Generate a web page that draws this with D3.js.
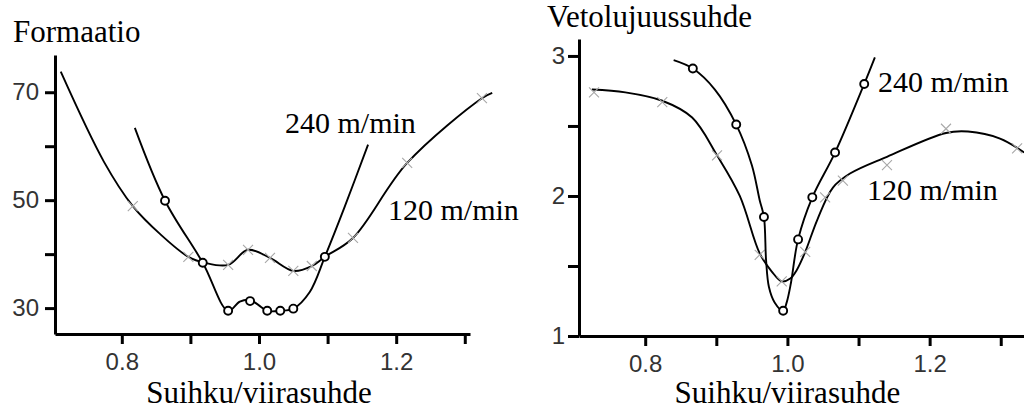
<!DOCTYPE html>
<html>
<head>
<meta charset="utf-8">
<script src="https://cdn.jsdelivr.net/npm/d3@7"></script>
<style>
  body { margin: 0; background: #fff; }
  svg { display: block; }
</style>
</head>
<body>
<svg id="chart" width="1024" height="410"></svg>
<script>
// ---- Formaatio vs. Suihku/viirasuhde ----
const formTicksX = [0.8, 0.9, 1.0, 1.1, 1.2, 1.3];
const formLabelsX = ["0.8", "", "1.0", "", "1.2", ""];
const formTicksY = [30, 40, 50, 60, 70];
const formLabelsY = ["30", "", "50", "", "70"];

// fitted curve, 120 m/min
const formCurve120 = [[0.711,73.8],[0.774,57.1],[0.816,48.9],[0.856,43.7],[0.897,39.5],[0.921,38.4],
  [0.955,38.0],[0.984,40.8],[1.016,39.3],[1.050,36.9],[1.077,37.8],[1.096,39.5],[1.137,43.0],
  [1.216,56.9],[1.325,68.9],[1.340,69.9]];
// measured points, 120 m/min
const formMarks120 = [[0.816,48.9],[0.897,39.5],[0.955,38.0],[0.984,40.8],[1.016,39.3],[1.050,36.9],
  [1.077,37.8],[1.137,43.0],[1.216,56.9],[1.325,68.9]];
// fitted curve, 240 m/min
const formCurve240 = [[0.819,63.4],[0.863,49.9],[0.918,38.4],[0.955,29.5],[0.972,31.2],[0.987,31.5],
  [0.999,30.6],[1.012,29.5],[1.031,29.5],[1.050,29.9],[1.074,33.0],[1.096,39.5],[1.125,48.8],[1.159,60.3]];
// measured points, 240 m/min
const formMarks240 = [[0.863,49.9],[0.918,38.4],[0.955,29.5],[0.987,31.3],[1.012,29.5],[1.031,29.5],
  [1.050,29.9],[1.096,39.5]];

// ---- Vetolujuussuhde vs. Suihku/viirasuhde ----
const tensTicksX = [0.8, 0.9, 1.0, 1.1, 1.2, 1.3];
const tensLabelsX = ["0.8", "", "1.0", "", "1.2", ""];
const tensTicksY = [1, 1.5, 2, 2.5, 3];
const tensLabelsY = ["1", "", "2", "", "3"];

const tensCurve120 = [[0.725,2.76],[0.772,2.74],[0.824,2.68],[0.866,2.56],[0.901,2.29],[0.933,2.00],
  [0.961,1.59],[0.978,1.46],[0.992,1.39],[1.004,1.41],[1.013,1.47],[1.025,1.60],[1.042,1.83],
  [1.064,2.06],[1.088,2.16],[1.140,2.28],[1.223,2.45],[1.254,2.46],[1.299,2.41],[1.333,2.31]];
const tensMarks120 = [[0.728,2.74],[0.824,2.67],[0.901,2.29],[0.961,1.58],[0.992,1.39],[1.025,1.60],
  [1.053,1.99],[1.078,2.11],[1.140,2.22],[1.223,2.48],[1.323,2.34]];
const tensCurve240 = [[0.840,2.97],[0.867,2.91],[0.898,2.76],[0.928,2.51],[0.950,2.22],[0.961,1.97],
  [0.967,1.85],[0.970,1.54],[0.974,1.35],[0.982,1.24],[0.994,1.18],[0.999,1.24],[1.005,1.38],
  [1.015,1.69],[1.035,1.99],[1.067,2.31],[1.108,2.80],[1.123,2.99]];
const tensMarks240 = [[0.867,2.91],[0.928,2.51],[0.967,1.85],[0.994,1.18],[1.015,1.69],[1.035,1.99],
  [1.067,2.31],[1.108,2.80]];

const xTitle = "Suihku/viirasuhde";
const seriesNames = ["240 m/min", "120 m/min"];

const SERIF = "'Liberation Serif', 'Times New Roman', serif";
const SANS = "'Liberation Sans', Arial, sans-serif";

const svg = d3.select("#chart");

function panel(cfg) {
  const x = d3.scaleLinear().domain(cfg.xDomain).range(cfg.xRange);
  const y = d3.scaleLinear().domain(cfg.yDomain).range(cfg.yRange);
  const g = svg.append("g");

  // axes
  const xAxis = d3.axisBottom(x).tickValues(cfg.ticksX)
    .tickFormat((d, i) => cfg.labelsX[i]).tickSize(10).tickSizeOuter(0).tickPadding(9);
  const yAxis = d3.axisLeft(y).tickValues(cfg.ticksY)
    .tickFormat((d, i) => cfg.labelsY[i]).tickSize(cfg.yTick).tickSizeOuter(0).tickPadding(cfg.yPad);

  [g.append("g").attr("transform", `translate(0,${cfg.yRange[0]})`).call(xAxis),
   g.append("g").attr("transform", `translate(${cfg.xRange[0]},0)`).call(yAxis)]
    .forEach(a => {
      a.selectAll(".domain").attr("stroke", "#000").attr("stroke-width", 3);
      a.selectAll(".tick line").attr("stroke", "#000").attr("stroke-width", 3);
      a.selectAll(".tick text").attr("font-family", SANS).attr("font-size", 24).attr("fill", "#333");
    });

  const line = d3.line().x(d => x(d[0])).y(d => y(d[1])).curve(d3.curveCatmullRom.alpha(0.5));

  // 120 m/min: curve + grey crosses
  g.append("path").datum(cfg.curve120).attr("d", line)
    .attr("fill", "none").attr("stroke", "#000").attr("stroke-width", 1.9);
  const s = 5;
  g.append("g").selectAll("path").data(cfg.marks120).join("path")
    .attr("d", d => {
      const px = x(d[0]), py = y(d[1]);
      return `M${px - s},${py - s}L${px + s},${py + s}M${px - s},${py + s}L${px + s},${py - s}`;
    })
    .attr("stroke", "#a8a8a8").attr("stroke-width", 1.1).attr("fill", "none");

  // 240 m/min: curve + open circles
  g.append("path").datum(cfg.curve240).attr("d", line)
    .attr("fill", "none").attr("stroke", "#000").attr("stroke-width", 1.9);
  g.append("g").selectAll("circle").data(cfg.marks240).join("circle")
    .attr("cx", d => x(d[0])).attr("cy", d => y(d[1])).attr("r", 4)
    .attr("fill", "#fff").attr("stroke", "#000").attr("stroke-width", 1.9);

  // titles
  g.append("text").attr("x", cfg.titlePos[0]).attr("y", cfg.titlePos[1])
    .attr("font-family", SERIF).attr("font-size", 31).attr("fill", "#000").text(cfg.title);
  g.append("text").attr("x", x(1.0)).attr("y", 403).attr("text-anchor", "middle")
    .attr("font-family", SERIF).attr("font-size", 31).attr("fill", "#000").text(xTitle);

  // series labels
  cfg.labelPos.forEach((p, i) => {
    g.append("text").attr("x", p[0]).attr("y", p[1])
      .attr("font-family", SERIF).attr("font-size", 30).attr("fill", "#000").text(seriesNames[i]);
  });
}

panel({
  xDomain: [0.7026, 1.3076], xRange: [55, 470],
  yDomain: [25.2, 76.9], yRange: [334, 55],
  ticksX: formTicksX, labelsX: formLabelsX, ticksY: formTicksY, labelsY: formLabelsY,
  yTick: 10, yPad: 6,
  curve120: formCurve120, marks120: formMarks120, curve240: formCurve240, marks240: formMarks240,
  title: "Formaatio", titlePos: [13, 42],
  labelPos: [[285, 133], [388, 220]]
});

panel({
  xDomain: [0.7069, 1.3327], xRange: [579, 1024],
  yDomain: [1, 3.121], yRange: [336, 39],
  ticksX: tensTicksX, labelsX: tensLabelsX, ticksY: tensTicksY, labelsY: tensLabelsY,
  yTick: 11, yPad: 3,
  curve120: tensCurve120, marks120: tensMarks120, curve240: tensCurve240, marks240: tensMarks240,
  title: "Vetolujuussuhde", titlePos: [547, 27],
  labelPos: [[878, 92], [867, 200]]
});
</script>
</body>
</html>
